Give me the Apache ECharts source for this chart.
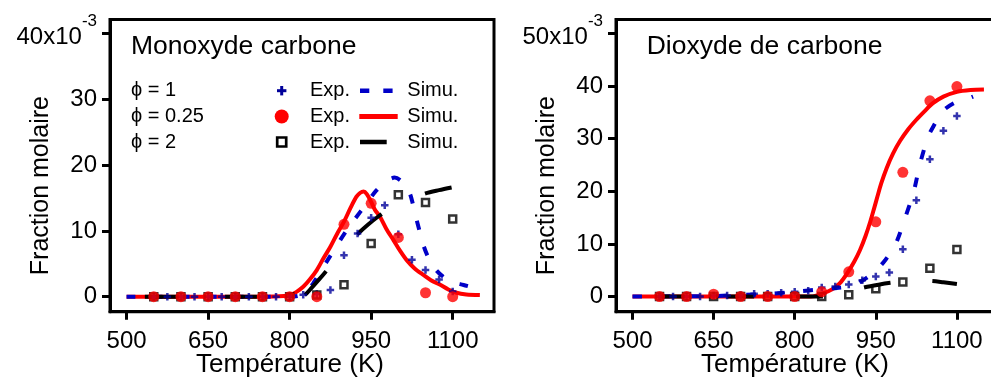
<!DOCTYPE html>
<html><head><meta charset="utf-8">
<script src="https://cdn.jsdelivr.net/npm/echarts@6/dist/echarts.min.js"></script>
<style>html,body{margin:0;padding:0;background:#fff;}#c{width:991px;height:381px;}</style>
</head><body><div id="c"></div>
<script>
const FONT = '"Liberation Sans", Arial, Helvetica, sans-serif';

// ---------- data ----------
const expTemps   = [550,600,650,700,750,800,850,900,950,1000,1050,1100];
const crossTemps = [550,575,600,625,650,675,700,725,750,775,800,825,850,875,900,925,950,975,1000,1025,1050,1075,1100];
const xTicks   = [500,650,800,950,1100];
const coTicks  = [0,10,20,30,40];
const co2Ticks = [0,10,20,30,40,50];

// Monoxyde de carbone (x10^-3)
const coExpPhi1   = [0,0,0,0,0,0,0,0,0,0,0,0.3,0.4,1.0,6.3,9.6,12.0,13.9,9.5,5.6,4.05,2.6,0.8];
const coExpPhi025 = [0,0,0,0,0,0,0,11.0,14.2,9.0,0.6,0];
const coExpPhi2   = [0,0,0,0,0,0,0.26,1.8,8.1,15.5,14.3,11.8];
const coSimPhi1   = [[500,0],[800,0],[815,0.1],[828,0.5],[843,2.0],[858,4.0],[874,6.1],[890,8.2],[905,10.1],[920,11.8],[942,14.2],[960,16.2],[981,17.7],[993,18.1],[1005,17.6],[1020,15.9],[1027,14.0],[1033,11.9],[1040,9.7],[1046,7.85],[1055,6.0],[1070,4.0],[1085,2.9],[1100,2.2],[1120,1.78],[1128,1.6]];
const coSimPhi025 = [[500,0],[750,0],[790,0.1],[800,0.26],[812,0.7],[825,1.5],[837,2.6],[850,4.05],[862,5.8],[875,7.6],[887,9.5],[900,11.4],[912,13.5],[923,15.2],[930,15.8],[936,16.0],[942,15.6],[950,14.4],[957,13.2],[966,12.2],[978,10.3],[991,8.6],[1003,7.0],[1015,5.6],[1030,4.3],[1046,3.3],[1060,2.5],[1077,1.8],[1092,1.1],[1107,0.6],[1125,0.35],[1150,0.26]];
const coSimPhi2   = [[500,0],[800,0],[812,0.05],[820,0.1],[828,0.26],[840,1.3],[855,2.7],[868,3.96],[885,5.7],[900,7.1],[915,8.5],[928,9.73],[945,11.0],[960,12.0],[978,13.0],[1000,14.0],[1025,14.9],[1050,15.7],[1075,16.2],[1098,16.6]];

// Dioxyde de carbone (x10^-3)
const co2ExpPhi1   = [0,0,0,0,0.2,0.2,0.3,0.5,0.5,0.7,0.9,1.1,1.7,1.9,2.3,3.1,3.8,4.55,8.97,18.3,26.1,31.5,34.3];
const co2ExpPhi025 = [0,0,0.45,0,0,0,0.9,4.7,14.2,23.6,37.2,39.9];
const co2ExpPhi2   = [0,0,0,0,0,0,0,0.35,1.45,2.75,5.35,8.95];
const co2SimPhi1   = [[500,0],[650,0.1],[700,0.3],[750,0.5],[800,0.9],[850,1.4],[875,1.6],[900,1.9],[925,3.0],[949,4.8],[968,7.0],[986,9.8],[1004,14.9],[1020,19.9],[1032,25.3],[1047,30.4],[1060,33.0],[1072,35.1],[1095,36.8],[1121,37.65],[1130,38.0]];
const co2SimPhi025 = [[500,0],[830,0],[850,0.5],[870,1.4],[885,2.7],[897,4.4],[910,6.6],[921,8.9],[931,11.5],[940,14.3],[947,16.8],[953,19.0],[960,21.5],[970,24.4],[982,27.2],[995,29.6],[1010,31.8],[1025,33.6],[1040,35.2],[1055,36.7],[1075,38.0],[1100,38.9],[1125,39.25],[1150,39.35]];
const co2SimPhi2   = [[500,0],[850,0],[875,0.3],[900,0.9],[930,1.75],[955,2.25],[977,2.6],[1000,2.85],[1025,3.0],[1053,2.95],[1075,2.7],[1100,2.37]];

// ---------- styles ----------
const RED = '#ff0000', BLUE_LINE = '#0000c8', BLUE_MK = '#00009a', BLACK = '#000';
const crossPath = 'path://M3,0h3v3h3v3h-3v3h-3v-3h-3v-3h3z';

function zip(ts, vs){ return ts.map((t,i)=>[t, vs[i]]); }

function xAxis(gi){
  return {
    type:'value', gridIndex:gi, min:469.5, max:1176,
    axisLine:{show:true, onZero:false, lineStyle:{color:BLACK, width:3}},
    axisTick:{show:true, length:8, lineStyle:{color:BLACK, width:3}, customValues:xTicks},
    axisLabel:{customValues:xTicks, fontSize:24, fontFamily:FONT, color:BLACK, margin:18, formatter:v=>String(v)},
    splitLine:{show:false},
    name:'Température (K)', nameLocation:'middle', nameGap:40, nameMoveOverlap:false,
    nameTextStyle:{fontSize:26, fontFamily:FONT, color:BLACK, padding:[0,24,0,0]}
  };
}
function yAxis(gi, min, max, ticks, top){
  return {
    type:'value', gridIndex:gi, min:min, max:max,
    axisLine:{show:true, onZero:false, lineStyle:{color:BLACK, width:3}},
    axisTick:{show:true, length:8, lineStyle:{color:BLACK, width:3}, customValues:ticks},
    axisLabel:{customValues:ticks, fontSize:24, fontFamily:FONT, color:BLACK, margin:13,
      formatter: v => v===top ? '{m|'+v+'x10}{s|-3}' : String(v),
      rich:{
        m:{fontSize:24, fontFamily:FONT, color:BLACK, verticalAlign:'bottom', padding:[0,0,5,0]},
        s:{fontSize:17, fontFamily:FONT, color:BLACK, verticalAlign:'top', padding:[0,0,25,0]}
      }},
    splitLine:{show:false},
    name:'Fraction molaire', nameLocation:'middle', nameGap:56, nameMoveOverlap:false,
    nameTextStyle:{fontSize:25, fontFamily:FONT, color:BLACK, padding:[0,40,0,0]}
  };
}

function lineSeries(gi, data, color, dash, offset, z){
  return {type:'line', xAxisIndex:gi, yAxisIndex:gi, data:data, showSymbol:false, symbol:'none',
    smooth:0.3, z:z, lineStyle:{color:color, width:4, type:dash, dashOffset:offset||0}, silent:true};
}
function crossSeries(gi, data){
  return {type:'scatter', xAxisIndex:gi, yAxisIndex:gi, data:data, symbol:crossPath, symbolSize:7.5, z:5,
    itemStyle:{color:BLUE_MK}, silent:true};
}
function squareSeries(gi, data){
  return {type:'scatter', xAxisIndex:gi, yAxisIndex:gi, data:data, symbol:'rect', symbolSize:7, z:6,
    itemStyle:{color:'rgba(0,0,0,0)', borderColor:BLACK, borderWidth:2.5}, silent:true};
}
function circleSeries(gi, data){
  return {type:'scatter', xAxisIndex:gi, yAxisIndex:gi, data:data, symbol:'circle', symbolSize:11, z:7,
    itemStyle:{color:RED}, silent:true};
}

// ---------- legend / titles (graphic) ----------
function txt(x, y, s, size){
  return {type:'text', x:x, y:y, silent:true,
    style:{text:s, fill:BLACK, font:size+'px '+FONT, align:'left', verticalAlign:'middle', textAlign:'left', textVerticalAlign:'middle'}};
}
const rows = [90.7, 116.5, 142];
const graphics = [
  txt(131, 46.7, 'Monoxyde carbone', 26.5),
  txt(646.7, 46.7, 'Dioxyde de carbone', 26.5),
  txt(131, rows[0], 'ϕ = 1', 20),
  txt(131, rows[1], 'ϕ = 0.25', 20),
  txt(131, rows[2], 'ϕ = 2', 20),
  txt(310, rows[0], 'Exp.', 20), txt(310, rows[1], 'Exp.', 20), txt(310, rows[2], 'Exp.', 20),
  txt(407.3, rows[0], 'Simu.', 20), txt(407.3, rows[1], 'Simu.', 20), txt(407.3, rows[2], 'Simu.', 20),
  {type:'rect', shape:{x:277, y:rows[0]-1.5, width:9.4, height:3}, style:{fill:BLUE_MK}, silent:true},
  {type:'rect', shape:{x:280.2, y:rows[0]-4.7, width:3, height:9.4}, style:{fill:BLUE_MK}, silent:true},
  {type:'circle', shape:{cx:281.7, cy:rows[1], r:7}, style:{fill:RED}, silent:true},
  {type:'rect', shape:{x:277.2, y:rows[2]-4.5, width:9, height:9}, style:{fill:'#fff', stroke:BLACK, lineWidth:2.7}, silent:true},
  {type:'line', shape:{x1:360, y1:rows[0], x2:393.3, y2:rows[0]}, style:{stroke:BLUE_LINE, lineWidth:4.5, lineDash:[9.3,14]}, silent:true},
  {type:'line', shape:{x1:359.3, y1:rows[1], x2:397.7, y2:rows[1]}, style:{stroke:RED, lineWidth:5}, silent:true},
  {type:'line', shape:{x1:360, y1:rows[2], x2:386.7, y2:rows[2]}, style:{stroke:BLACK, lineWidth:4.5}, silent:true}
];

const option = {
  animation:false,
  backgroundColor:'#fff',
  grid:[
    {left:110, top:19.5, width:384, height:292.2, show:true, borderColor:BLACK, borderWidth:3, containLabel:false, outerBoundsMode:'none'},
    {left:616, top:19.5, width:382, height:292.2, show:true, borderColor:BLACK, borderWidth:3, containLabel:false, outerBoundsMode:'none'}
  ],
  xAxis:[xAxis(0), xAxis(1)],
  yAxis:[yAxis(0, -2.28, 42.13, coTicks, 40), yAxis(1, -2.89, 52.66, co2Ticks, 50)],
  series:[
    lineSeries(0, coSimPhi025, RED, 'solid', 0, 2),
    lineSeries(0, coSimPhi1, BLUE_LINE, [9,18], 0, 3),
    lineSeries(0, coSimPhi2, BLACK, [32,48], 61.7, 4),
    crossSeries(0, zip(crossTemps, coExpPhi1)),
    squareSeries(0, zip(expTemps, coExpPhi2)),
    circleSeries(0, zip(expTemps, coExpPhi025)),

    lineSeries(1, co2SimPhi025, RED, 'solid', 0, 2),
    lineSeries(1, co2SimPhi1, BLUE_LINE, [9.5,19], 0, 3),
    lineSeries(1, co2SimPhi2, BLACK, [27,42], 43.5, 4),
    crossSeries(1, zip(crossTemps, co2ExpPhi1)),
    squareSeries(1, zip(expTemps, co2ExpPhi2)),
    circleSeries(1, zip(expTemps, co2ExpPhi025))
  ],
  graphic:graphics
};

const chart = echarts.init(document.getElementById('c'), null, {renderer:'canvas'});
chart.setOption(option);
</script>
</body></html>
